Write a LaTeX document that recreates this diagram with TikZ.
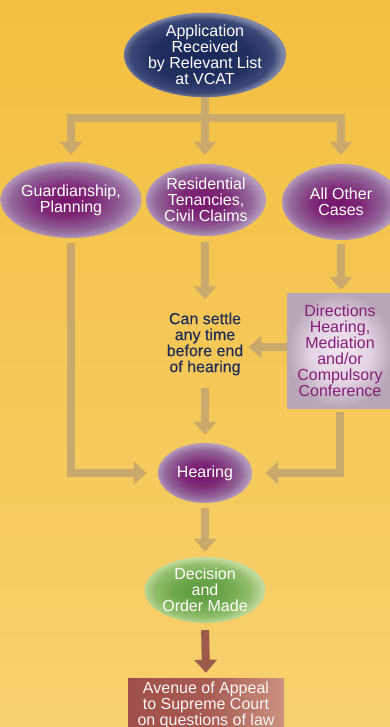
\documentclass[tikz,border=0pt]{standalone}
\usepackage{fontspec}
\setmainfont{Liberation Sans}
\newfontfamily\semib[FakeBold=0.35]{Liberation Sans}
\usetikzlibrary{arrows.meta,shapes.geometric,calc}
\definecolor{bgTop}{HTML}{F3BF40}
\definecolor{bgBot}{HTML}{F8D06C}
\definecolor{tan}{HTML}{C9A96C}
\definecolor{brn}{HTML}{9C5A4C}
\definecolor{navyA}{HTML}{1A2859}
\definecolor{navyB}{HTML}{22305F}
\definecolor{navyC}{HTML}{3C4878}
\definecolor{navyD}{HTML}{7E86A8}
\definecolor{purA}{HTML}{76146C}
\definecolor{purB}{HTML}{7E2876}
\definecolor{purC}{HTML}{93679C}
\definecolor{purD}{HTML}{B49CBC}
\definecolor{grnA}{HTML}{5A9A3C}
\definecolor{grnB}{HTML}{6EA84C}
\definecolor{grnC}{HTML}{92BE6C}
\definecolor{grnD}{HTML}{C0DA9C}
\definecolor{dirA}{HTML}{F0E6F0}
\definecolor{dirB}{HTML}{E2D4E2}
\definecolor{dirC}{HTML}{B6A6B6}
\definecolor{dirtext}{HTML}{8A1A7C}
\definecolor{navytext}{HTML}{1E2D5A}
\definecolor{apL}{HTML}{A0504A}
\definecolor{apR}{HTML}{CC9280}
\pgfdeclareradialshading{navyball}{\pgfpoint{-2bp}{-1bp}}{color(0bp)=(navyA); color(15bp)=(navyB); color(22bp)=(navyC); color(25bp)=(navyD); color(50bp)=(navyD)}
\pgfdeclareradialshading{purball}{\pgfpoint{-2bp}{-1bp}}{color(0bp)=(purA); color(10bp)=(purB); color(20bp)=(purC); color(25bp)=(purD); color(50bp)=(purD)}
\pgfdeclareradialshading{grnball}{\pgfpoint{-2bp}{-1bp}}{color(0bp)=(grnA); color(11bp)=(grnB); color(20bp)=(grnC); color(25bp)=(grnD); color(50bp)=(grnD)}
\pgfdeclareradialshading{dirball}{\pgfpointorigin}{color(0bp)=(dirA); color(14bp)=(dirB); color(25bp)=(dirC); color(50bp)=(dirC)}
\tikzset{
  txt/.style={font=\fontsize{16}{16}\selectfont, align=center, inner sep=0pt},
  oval/.style={ellipse, txt, text=white},
  navyoval/.style={oval, shade, shading=navyball},
  puroval/.style={oval, shade, shading=purball},
  grnoval/.style={oval, shade, shading=grnball},
  conn/.style={draw=tan, line width=8pt, -{Triangle[width=22pt,length=13pt]}},
  bconn/.style={draw=brn, line width=8pt, -{Triangle[width=22pt,length=13pt]}},
}
\begin{document}
\begin{tikzpicture}[x=1pt,y=1pt]
\useasboundingbox (0,0) rectangle (390,-727);
\clip (0,0) rectangle (390,-727);
\shade[top color=bgTop, bottom color=bgBot] (0,0) rectangle (390,-727);

\node[navyoval, minimum width=162pt, minimum height=84pt] (app) at (205,-55)
  {Application\\Received\\by Relevant List\\at VCAT};
\coordinate (J) at (205,-118);
\node[puroval, minimum width=118pt, minimum height=76pt] (g) at (71,-200)
  {Guardianship,\\Planning};
\node[puroval, minimum width=120pt, minimum height=72pt] (res) at (206,-200)
  {Residential\\Tenancies,\\Civil Claims};
\node[puroval, minimum width=118pt, minimum height=76pt] (other) at (341,-202)
  {All Other\\Cases};
\node[txt, text=navytext, font=\semib\fontsize{16}{16}\selectfont] (settle) at (205,-344)
  {Can settle\\any time\\before end\\of hearing};
\node[txt, text=dirtext, shade, shading=dirball, minimum width=106pt, minimum height=115pt] (dir) at (340,-350.5)
  {Directions\\Hearing,\\Mediation\\and/or\\Compulsory\\Conference};
\node[puroval, minimum width=94pt, minimum height=60pt] (hear) at (205,-473) {Hearing};
\node[grnoval, minimum width=104pt, minimum height=66pt] (dec) at (205,-590)
  {Decision\\and\\Order Made};
\node[txt, text=white!92!apR, left color=apL, right color=apR, middle color=apL!85!apR, minimum width=156pt, minimum height=54pt] (appeal) at (206,-705)
  {Avenue of Appeal\\to Supreme Court\\on questions of law};

% top distribution
\draw[conn, shorten >=9pt] (app.south) -- (J) -- (J |- res.north);
\draw[conn, shorten >=7pt] (J) -| (g.north);
\draw[conn, shorten >=9pt] (J) -| (other.north);

% middle
\draw[conn, shorten <=6pt, shorten >=13pt] (res.south -| J) -- (J |- settle.north);
\draw[conn, shorten <=4pt, shorten >=3pt] (other.south) -- (other.south |- dir.north);
\draw[conn, shorten >=5pt] (dir.west |- 0,-347) -- (settle.east |- 0,-347);
\draw[conn, shorten <=12pt, shorten >=8pt] (settle.south) -- (hear.north);
\draw[conn, shorten <=5pt, shorten >=11pt] (g.south) |- (hear.west);
\draw[conn, shorten <=4pt, shorten >=13pt] (dir.south) |- (hear.east);

% bottom
\draw[conn, shorten <=5pt, shorten >=5pt] (hear.south) -- (dec.north);
\draw[bconn, shorten <=7pt, shorten >=5pt] (dec.south) -- (appeal.north);
\end{tikzpicture}
\end{document}
